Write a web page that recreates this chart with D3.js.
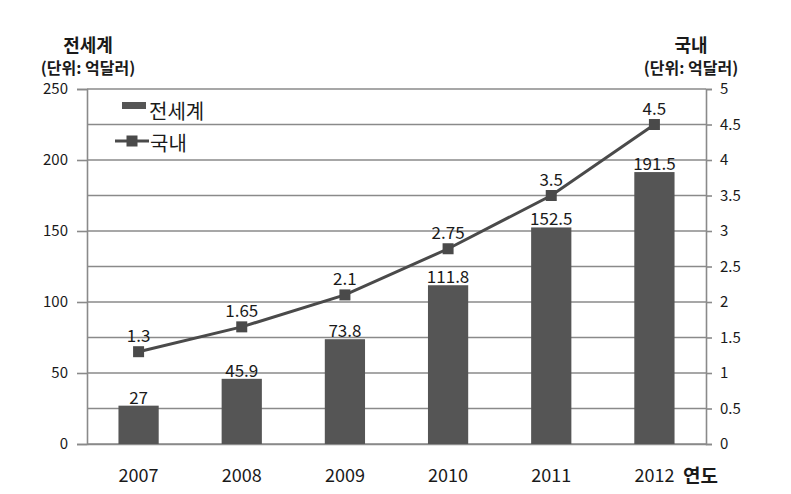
<!DOCTYPE html>
<html><head><meta charset="utf-8">
<script src="https://cdn.jsdelivr.net/npm/d3@7"></script>
<style>
body{margin:0;background:#fff;}
svg text{font-family:"Noto Sans CJK KR","Open Sans",sans-serif;fill:#1a1a1a;}
</style></head>
<body>
<svg id="c" width="791" height="494"></svg>
<script>
const years = ["2007","2008","2009","2010","2011","2012"];
const worldValues = [27, 45.9, 73.8, 111.8, 152.5, 191.5];
const domesticValues = [1.3, 1.65, 2.1, 2.75, 3.5, 4.5];
const leftTicks = [0, 50, 100, 150, 200, 250];
const rightTicks = [0, 0.5, 1, 1.5, 2, 2.5, 3, 3.5, 4, 4.5, 5];
const gridTicks = [0, 25, 50, 75, 100, 125, 150, 175, 200, 225, 250];
const worldName = "전세계";
const domesticName = "국내";
const unitLabel = "(단위: 억달러)";
const xTitle = "연도";

const svg = d3.select("#c");
const M = {l: 87, r: 706, t: 89, b: 444};
const x = d3.scaleBand().domain(years).range([M.l, M.r]).paddingInner(0.61).paddingOuter(0.305);
const yL = d3.scaleLinear().domain([0, 250]).range([M.b, M.t]);
const yR = d3.scaleLinear().domain([0, 5]).range([M.b, M.t]);
const gridC = "#8a8a8a", barC = "#555", lineC = "#4a4a4a";

// gridlines
svg.append("g").selectAll("line").data(gridTicks).join("line")
  .attr("x1", M.l).attr("x2", M.r).attr("y1", d => yL(d)).attr("y2", d => yL(d))
  .attr("stroke", gridC).attr("stroke-width", 1.6);

// left axis
const gL = svg.append("g").attr("transform", `translate(${M.l},0)`)
  .call(d3.axisLeft(yL).tickValues(leftTicks).tickSize(10).tickPadding(9));
gL.select(".domain").attr("stroke", gridC).attr("stroke-width", 1.6);
gL.selectAll(".tick line").attr("stroke", gridC).attr("stroke-width", 1.6);
gL.selectAll(".tick text").style("font-size", "15px").attr("fill", "#1a1a1a");

// right axis
const gR = svg.append("g").attr("transform", `translate(${M.r},0)`)
  .call(d3.axisRight(yR).tickValues(rightTicks).tickSize(6).tickPadding(8).tickFormat(d3.format("")));
gR.select(".domain").attr("stroke", gridC).attr("stroke-width", 1.6);
gR.selectAll(".tick line").attr("stroke", gridC).attr("stroke-width", 1.6);
gR.selectAll(".tick text").style("font-size", "15px").attr("fill", "#1a1a1a");

// bottom axis
const gB = svg.append("g").attr("transform", `translate(0,${M.b})`)
  .call(d3.axisBottom(x).tickSize(0).tickPadding(25));
gB.select(".domain").attr("stroke", gridC).attr("stroke-width", 1.6);
gB.selectAll(".tick text").style("font-size", "18px").attr("fill", "#1a1a1a");

// bars
svg.append("g").selectAll("rect").data(years).join("rect")
  .attr("x", d => x(d)).attr("width", x.bandwidth())
  .attr("y", (d, i) => yL(worldValues[i])).attr("height", (d, i) => M.b - yL(worldValues[i]))
  .attr("fill", barC);
svg.append("g").selectAll("text").data(years).join("text")
  .attr("x", d => x(d) + x.bandwidth() / 2).attr("y", (d, i) => yL(worldValues[i]) - 2)
  .attr("text-anchor", "middle").style("font-size", "17px")
  .text((d, i) => worldValues[i]);

// line
const line = d3.line().x((d, i) => x(years[i]) + x.bandwidth() / 2).y(d => yR(d));
svg.append("path").datum(domesticValues).attr("d", line)
  .attr("fill", "none").attr("stroke", lineC).attr("stroke-width", 3);
svg.append("g").selectAll("rect").data(domesticValues).join("rect")
  .attr("x", (d, i) => x(years[i]) + x.bandwidth() / 2 - 5.5).attr("y", d => yR(d) - 5.5)
  .attr("width", 11).attr("height", 11).attr("fill", lineC);
svg.append("g").selectAll("text").data(domesticValues).join("text")
  .attr("x", (d, i) => x(years[i]) + x.bandwidth() / 2).attr("y", d => yR(d) - 10)
  .attr("text-anchor", "middle").style("font-size", "17px")
  .text(d => d);

// legend
svg.append("rect").attr("x", 122).attr("y", 102).attr("width", 24).attr("height", 7).attr("fill", barC);
svg.append("text").attr("x", 149).attr("y", 119).style("font-size", "20px").text(worldName);
svg.append("line").attr("x1", 115).attr("x2", 149).attr("y1", 141).attr("y2", 141).attr("stroke", lineC).attr("stroke-width", 3);
svg.append("rect").attr("x", 126.5).attr("y", 135.5).attr("width", 11).attr("height", 11).attr("fill", lineC);
svg.append("text").attr("x", 150).attr("y", 151).style("font-size", "20px").text(domesticName);

// axis titles
svg.append("text").attr("x", 88).attr("y", 52).attr("text-anchor", "middle").style("font-size", "18px").style("font-weight", "bold").text(worldName);
svg.append("text").attr("x", 88).attr("y", 74).attr("text-anchor", "middle").style("font-size", "16px").style("font-weight", "bold").text(unitLabel);
svg.append("text").attr("x", 691).attr("y", 52).attr("text-anchor", "middle").style("font-size", "18px").style("font-weight", "bold").text(domesticName);
svg.append("text").attr("x", 691).attr("y", 74).attr("text-anchor", "middle").style("font-size", "16px").style("font-weight", "bold").text(unitLabel);
svg.append("text").attr("x", 683).attr("y", 483).style("font-size", "19px").style("font-weight", "bold").text(xTitle);
</script>
</body></html>
